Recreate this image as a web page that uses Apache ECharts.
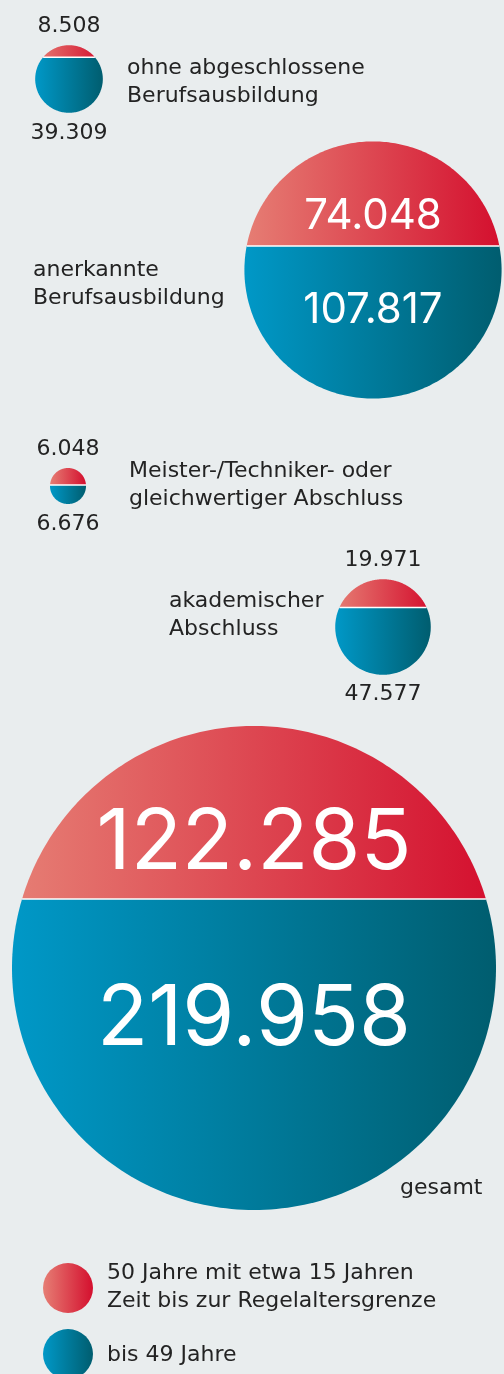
<!DOCTYPE html>
<html>
<head>
<meta charset="utf-8">
<script src="https://cdn.jsdelivr.net/npm/echarts@6/dist/echarts.min.js"></script>
<style>
  html, body { margin: 0; padding: 0; background: #e9edee; }
  #chart { width: 504px; height: 1374px; }
</style>
</head>
<body>
<div id="chart"></div>
<script>
// data
const categories = [
  'ohne abgeschlossene\nBerufsausbildung',
  'anerkannte\nBerufsausbildung',
  'Meister-/Techniker- oder\ngleichwertiger Abschluss',
  'akademischer\nAbschluss',
  'gesamt'
];
const age50plus = [8508, 74048, 6048, 19971, 122285];
const under50 = [39309, 107817, 6676, 47577, 219958];
const legendLabels = [
  '50 Jahre mit etwa 15 Jahren\nZeit bis zur Regelaltersgrenze',
  'bis 49 Jahre'
];

// layout (pixel positions of each bubble and its caption)
const centers = [[69, 79], [373, 270], [68, 486], [383, 627], [254, 968]];
const captionPos = [[127, 82], [33, 284], [129, 485], [169, 615], [400, 1188]];
const valuesInside = [false, true, false, false, true];
const bigFont = [0, 42, 0, 0, 84];

const MAX_R = 242;
const MIN_R = 18;
const FONT = '"DejaVu Sans", sans-serif';
const BIG_FONT = 'Inter, "Noto Sans", sans-serif';
const TEXT = '#232323';

const totals = age50plus.map((v, i) => v + under50[i]);
const maxTotal = Math.max(...totals);
const radius = t => Math.max(MIN_R, t / maxTotal * MAX_R);

const fmt = v => String(v).replace(/\B(?=(\d{3})+(?!\d))/g, '.');

function redGrad(x0, x1) {
  return { type: 'linear', x: x0, y: 0, x2: x1, y2: 0, global: true,
    colorStops: [{ offset: 0, color: '#e67e74' }, { offset: 1, color: '#d40f2e' }] };
}
function blueGrad(x0, x1) {
  return { type: 'linear', x: x0, y: 0, x2: x1, y2: 0, global: true,
    colorStops: [{ offset: 0, color: '#0098c7' }, { offset: 1, color: '#005d6f' }] };
}

function arc(cx, cy, r, a0, a1, n) {
  const pts = [];
  for (let k = 0; k <= n; k++) {
    const a = a0 + (a1 - a0) * k / n;
    pts.push([cx + r * Math.cos(a), cy + r * Math.sin(a)]);
  }
  return pts;
}

const seriesData = categories.map((c, i) => [centers[i][0], centers[i][1]]);

function renderItem(params, api) {
  const i = params.dataIndex;
  const c = api.coord([api.value(0), api.value(1)]);
  const cx = c[0], cy = c[1];
  const top = age50plus[i], bot = under50[i], total = top + bot;
  const r = radius(total);
  // split line height follows the share of the older group
  const splitY = cy - r + 2 * r * top / total;
  const phi = Math.asin((splitY - cy) / r);
  const halfW = Math.sqrt(r * r - (splitY - cy) * (splitY - cy));
  const topPts = arc(cx, cy, r, Math.PI - phi, 2 * Math.PI + phi, 160);
  const botPts = arc(cx, cy, r, phi, Math.PI - phi, 160);
  const children = [
    { type: 'polygon', shape: { points: topPts }, style: { fill: redGrad(cx - r, cx + r) } },
    { type: 'polygon', shape: { points: botPts }, style: { fill: blueGrad(cx - r, cx + r) } },
    { type: 'line', shape: { x1: cx - halfW, y1: splitY, x2: cx + halfW, y2: splitY },
      style: { stroke: '#ffffff', lineWidth: 1.5 } }
  ];
  if (valuesInside[i]) {
    const fs = bigFont[i];
    children.push(
      { type: 'text', style: { text: fmt(top), x: cx, y: splitY - 0.23 * r, fill: '#fff',
        fontSize: fs, fontFamily: BIG_FONT, align: 'center', verticalAlign: 'middle' } },
      { type: 'text', style: { text: fmt(bot), x: cx, y: splitY + 0.5 * r, fill: '#fff',
        fontSize: fs, fontFamily: BIG_FONT, align: 'center', verticalAlign: 'middle' } }
    );
  } else {
    children.push(
      { type: 'text', style: { text: fmt(top), x: cx, y: cy - r - 19, fill: TEXT,
        fontSize: 22, fontFamily: FONT, align: 'center', verticalAlign: 'middle' } },
      { type: 'text', style: { text: fmt(bot), x: cx, y: cy + r + 20, fill: TEXT,
        fontSize: 22, fontFamily: FONT, align: 'center', verticalAlign: 'middle' } }
    );
  }
  children.push({ type: 'text', style: {
    text: categories[i], x: captionPos[i][0], y: captionPos[i][1], fill: TEXT,
    fontSize: 22, lineHeight: 28, fontFamily: FONT, align: 'left', verticalAlign: 'middle' } });
  return { type: 'group', children };
}

const chart = echarts.init(document.getElementById('chart'), null, { renderer: 'canvas' });
chart.setOption({
  backgroundColor: '#e9edee',
  animation: false,
  grid: { left: 0, right: 0, top: 0, bottom: 0 },
  xAxis: { type: 'value', min: 0, max: 504, show: false },
  yAxis: { type: 'value', min: 0, max: 1374, inverse: true, show: false },
  series: [{
    type: 'custom',
    renderItem,
    data: seriesData,
    clip: false
  }],
  graphic: [
    { type: 'circle', shape: { cx: 68, cy: 1288, r: 25 }, style: { fill: redGrad(43, 93) } },
    { type: 'circle', shape: { cx: 68, cy: 1354, r: 25 }, style: { fill: blueGrad(43, 93) } },
    { type: 'text', style: { text: legendLabels[0], x: 107, y: 1287, fill: TEXT, fontSize: 22,
      lineHeight: 28, fontFamily: FONT, align: 'left', verticalAlign: 'middle' } },
    { type: 'text', style: { text: legendLabels[1], x: 107, y: 1355, fill: TEXT, fontSize: 22,
      lineHeight: 28, fontFamily: FONT, align: 'left', verticalAlign: 'middle' } }
  ]
});
</script>
</body>
</html>
